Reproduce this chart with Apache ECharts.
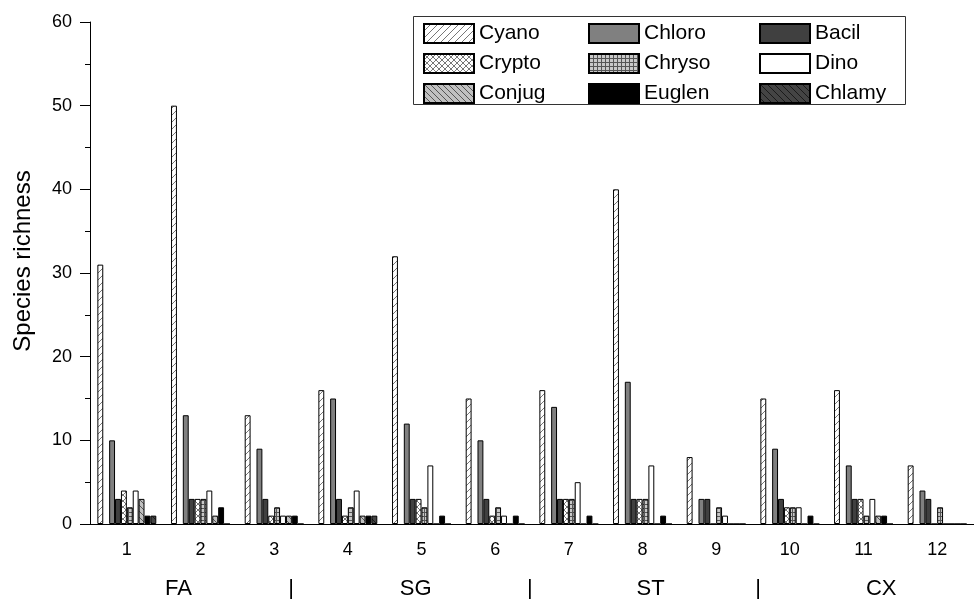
<!DOCTYPE html>
<html>
<head>
<meta charset="utf-8">
<script src="https://cdn.jsdelivr.net/npm/echarts@6/dist/echarts.min.js"></script>
<style>
html, body { margin: 0; padding: 0; background: #fff; }
#main { width: 974px; height: 599px; }
</style>
</head>
<body>
<div id="main"></div>
<script>
// sampling sites
const sites = ['1', '2', '3', '4', '5', '6', '7', '8', '9', '10', '11', '12'];
// species richness per group
const cyano  = [31, 50, 13, 16, 32, 15, 16, 40, 8, 15, 16, 7];
const chloro = [10, 13, 9, 15, 12, 10, 14, 17, 3, 9, 7, 4];
const bacil  = [3, 3, 3, 3, 3, 3, 3, 3, 3, 3, 3, 3];
const crypto = [4, 3, 1, 1, 3, 1, 3, 3, 0, 2, 3, 0];
const chryso = [2, 3, 2, 2, 2, 2, 3, 3, 2, 2, 1, 2];
const dino   = [4, 4, 1, 4, 7, 1, 5, 7, 1, 2, 3, 0];
const conjug = [3, 1, 1, 1, 0, 0, 0, 0, 0, 0, 1, 0];
const euglen = [1, 2, 1, 1, 1, 1, 1, 1, 0, 1, 1, 0];
const chlamy = [1, 0, 0, 1, 0, 0, 0, 0, 0, 0, 0, 0];
// empty slot between Cyano and Chloro in every group
const blank  = ['-', '-', '-', '-', '-', '-', '-', '-', '-', '-', '-', '-'];
// region labels under the axis, positions in site units
const regionNames = ['FA', '|', 'SG', '|', 'ST', '|', 'CX'];
const regionAt = [1.70, 3.23, 4.92, 6.47, 8.11, 9.57, 11.24];

const FONT = 'Liberation Sans, Arial, sans-serif';

// hatch fills
function pattern(bg, fg, kind, step) {
    const c = document.createElement('canvas');
    c.width = step;
    c.height = step;
    const ctx = c.getContext('2d');
    ctx.fillStyle = bg;
    ctx.fillRect(0, 0, step, step);
    ctx.strokeStyle = fg;
    ctx.lineWidth = 1;
    ctx.beginPath();
    if (kind.indexOf('/') >= 0) {
        ctx.moveTo(-1, step + 1); ctx.lineTo(step + 1, -1);
    }
    if (kind.indexOf('\\') >= 0) {
        ctx.moveTo(-1, -1); ctx.lineTo(step + 1, step + 1);
    }
    if (kind.indexOf('#') >= 0) {
        ctx.moveTo(0.5, 0); ctx.lineTo(0.5, step);
        ctx.moveTo(0, 0.5); ctx.lineTo(step, 0.5);
    }
    ctx.stroke();
    return { image: c, repeat: 'repeat' };
}

function bar(name, data, color) {
    return {
        name: name,
        type: 'bar',
        data: data,
        barGap: 0,
        barCategoryGap: '20%',
        itemStyle: { color: color, borderColor: '#000', borderWidth: 1 },
        emphasis: { disabled: true }
    };
}

const series = [
    bar('Cyano', cyano, pattern('#fff', '#777', '/', 7)),
    { name: 'blank', type: 'bar', data: blank, barGap: 0, barCategoryGap: '20%', itemStyle: { color: 'transparent' } },
    bar('Chloro', chloro, '#808080'),
    bar('Bacil', bacil, '#404040'),
    bar('Crypto', crypto, pattern('#fff', '#777', '/\\', 6)),
    bar('Chryso', chryso, pattern('#c8c8c8', '#555', '#', 4)),
    bar('Dino', dino, '#fff'),
    bar('Conjug', conjug, pattern('#c0c0c0', '#555', '\\', 6)),
    bar('Euglen', euglen, '#000'),
    bar('Chlamy', chlamy, pattern('#444', '#1a1a1a', '\\', 7))
];

function legendCol(left, names) {
    return {
        orient: 'vertical',
        left: left,
        top: 23,
        padding: 0,
        itemWidth: 50,
        itemHeight: 19,
        itemGap: 9,
        icon: 'rect',
        selectedMode: false,
        data: names,
        textStyle: { fontFamily: FONT, fontSize: 21, color: '#000' }
    };
}

const chart = echarts.init(document.getElementById('main'));
chart.setOption({
    animation: false,
    backgroundColor: '#fff',
    grid: { left: 90, top: 22, width: 892, bottom: 75, containLabel: false },
    legend: [
        legendCol(423, ['Cyano', 'Crypto', 'Conjug']),
        legendCol(588, ['Chloro', 'Chryso', 'Euglen']),
        legendCol(759, ['Bacil', 'Dino', 'Chlamy'])
    ],
    xAxis: [{
        type: 'category',
        data: sites,
        position: 'bottom',
        axisLine: { lineStyle: { color: '#000', width: 1 } },
        axisTick: { alignWithLabel: true, length: 10, lineStyle: { color: '#000' } },
        axisLabel: { margin: 17, color: '#000', fontFamily: FONT, fontSize: 18 },
        splitLine: { show: false }
    }, {
        // short ticks at the category borders
        type: 'category',
        data: sites,
        position: 'bottom',
        axisLine: { show: false },
        axisTick: { length: 5, lineStyle: { color: '#000' } },
        axisLabel: { show: false },
        splitLine: { show: false }
    }, {
        // helper scale for the region labels
        type: 'value',
        min: 0.5,
        max: 12.5,
        show: false
    }],
    yAxis: {
        type: 'value',
        min: 0,
        max: 60,
        interval: 10,
        axisLine: { show: true, lineStyle: { color: '#000', width: 1 } },
        axisTick: { show: true, length: 10, lineStyle: { color: '#000' } },
        minorTick: { show: true, splitNumber: 2, length: 5, lineStyle: { color: '#000' } },
        axisLabel: { margin: 18, color: '#000', fontFamily: FONT, fontSize: 18 },
        splitLine: { show: false }
    },
    series: series
});

const regionText = regionNames.map(function (t, i) {
    return {
        type: 'text',
        x: chart.convertToPixel({ xAxisIndex: 2 }, regionAt[i]),
        y: 589,
        style: {
            text: t,
            textAlign: 'center',
            textVerticalAlign: 'middle',
            fontFamily: FONT,
            fontSize: 22,
            fill: '#000'
        }
    };
});

chart.setOption({
    graphic: [{
        type: 'rect',
        shape: { x: 413.5, y: 16.5, width: 492, height: 88 },
        style: { fill: 'none', stroke: '#333', lineWidth: 1 },
        z: 0
    }, {
        // y axis title
        type: 'text',
        x: 23,
        y: 261,
        rotation: Math.PI / 2,
        style: {
            text: 'Species richness',
            textAlign: 'center',
            textVerticalAlign: 'middle',
            fontFamily: FONT,
            fontSize: 24,
            fill: '#000'
        }
    }].concat(regionText)
});
</script>
</body>
</html>
